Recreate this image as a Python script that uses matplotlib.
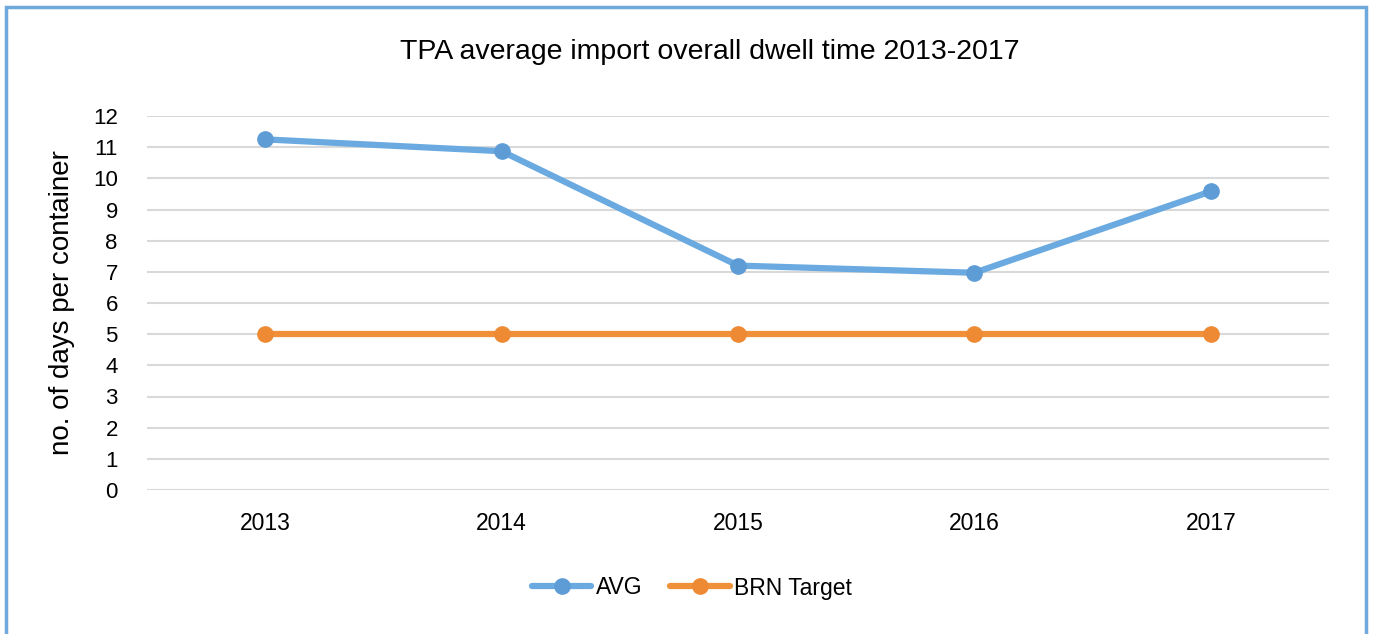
import matplotlib
matplotlib.use("Agg")
import matplotlib.pyplot as plt
from matplotlib.patches import Rectangle

plt.rcParams['font.family'] = ['Liberation Sans', 'DejaVu Sans']

years = ["2013", "2014", "2015", "2016", "2017"]
avg = [11.25, 10.87, 7.2, 6.97, 9.58]
brn_target = [5, 5, 5, 5, 5]
yticks = list(range(0, 13))

W, H = 1373, 634
fig = plt.figure(figsize=(W / 100, H / 100), dpi=100)
ax = fig.add_axes([147 / W, 1 - 490 / H, (1329 - 147) / W, (490 - 116) / H])

x = list(range(len(years)))
ax.plot(x, avg, color="#6AAAE0", lw=4.5, marker="o", ms=11,
        mfc="#5E9CD6", mec="#5E9CD6", label="AVG", solid_capstyle="round", zorder=3)
ax.plot(x, brn_target, color="#F0913A", lw=4.5, marker="o", ms=11,
        mfc="#EE8A33", mec="#EE8A33", label="BRN Target", solid_capstyle="round", zorder=3)

ax.set_xlim(-0.5, len(years) - 0.5)
ax.set_ylim(0, 12)
ax.set_yticks(yticks)
ax.set_yticklabels([str(t) for t in yticks], fontsize=16)
ax.set_xticks(x)
ax.set_xticklabels(years, fontsize=16.5)
ax.tick_params(axis="both", length=0)
ax.tick_params(axis="x", pad=16)
ax.tick_params(axis="y", pad=21)
ax.grid(axis="y", color="#D9D9D9", lw=1.5)
ax.set_axisbelow(True)
for s in ax.spines.values():
    s.set_visible(False)

ax.set_ylabel("no. of days per container", fontsize=20, labelpad=13)
fig.text(710 / W, 1 - 52 / H, "TPA average import overall dwell time 2013-2017",
         ha="center", va="center", fontsize=20.5)

leg = fig.legend(loc="center", bbox_to_anchor=(692 / W, 1 - 588 / H), ncol=2,
                 frameon=False, fontsize=16.5, handlelength=2.6, columnspacing=1.2,
                 handletextpad=0.2)

fig.patches.append(Rectangle((6 / W, -0.05), (1366 - 6) / W, 1.05 - 7 / H,
                             transform=fig.transFigure, fill=False,
                             ec="#6FA8DC", lw=2.5))

fig.savefig("out.png", dpi=100)
